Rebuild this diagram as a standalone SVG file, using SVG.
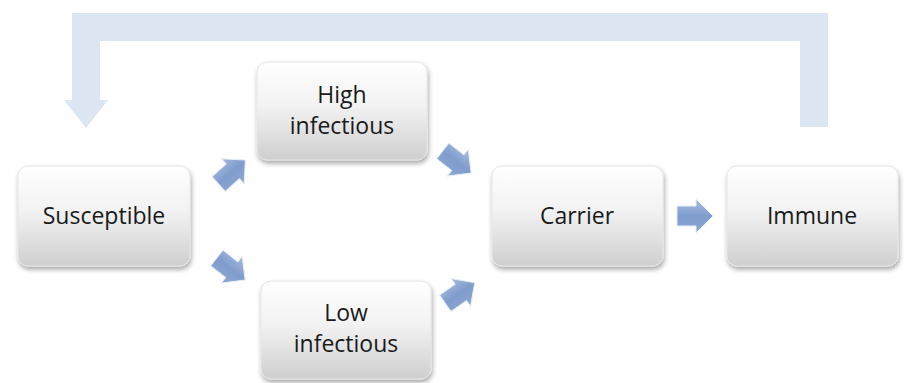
<svg xmlns="http://www.w3.org/2000/svg" width="907" height="383" viewBox="0 0 907 383">
<defs>
<linearGradient id="boxg" x1="0" y1="0" x2="0" y2="1">
<stop offset="0" stop-color="#ffffff"/>
<stop offset="0.45" stop-color="#f2f2f2"/>
<stop offset="1" stop-color="#cfcfcf"/>
</linearGradient>
<linearGradient id="arrg" x1="0" y1="0" x2="0" y2="1">
<stop offset="0" stop-color="#a9bde0"/>
<stop offset="0.5" stop-color="#7f9ccc"/>
<stop offset="1" stop-color="#8fa8d4"/>
</linearGradient>
<filter id="sh" x="-10%" y="-10%" width="125%" height="130%">
<feGaussianBlur in="SourceAlpha" stdDeviation="2.5"/>
<feOffset dx="1" dy="3" result="b"/>
<feComponentTransfer><feFuncA type="linear" slope="0.35"/></feComponentTransfer>
<feMerge><feMergeNode/><feMergeNode in="SourceGraphic"/></feMerge>
</filter>
<path id="arr" d="M-18,-10 L1,-10 L1,-17 L18,0 L1,17 L1,10 L-18,10 Z"/>
</defs>
<style>
.box{fill:url(#boxg);stroke:#e6e6e6;stroke-width:1;filter:url(#sh)}
.lbl{font-family:"Open Sans","Liberation Sans",sans-serif;font-size:23px;fill:#1a1a1a;text-anchor:middle}
.ar{fill:url(#arrg);stroke:#e8eef8;stroke-width:1}
</style>
<rect width="907" height="383" fill="#ffffff"/>
<g id="connectors">
<path d="M828,127 L828,13 L72,13 L72,100 L64,100 L86,128 L108,100 L100,100 L100,41 L800,41 L800,127 Z" fill="#dce6f2"/>
<use href="#arr" class="ar" transform="translate(232,172) rotate(-42)"/>
<use href="#arr" class="ar" transform="translate(231,269) rotate(38)"/>
<use href="#arr" class="ar" transform="translate(457,162) rotate(38)"/>
<use href="#arr" class="ar" transform="translate(460,293) rotate(-35)"/>
<use href="#arr" class="ar" transform="translate(695,216)"/>
</g>
<g id="susceptible">
<rect class="box" x="18" y="166" width="172" height="100" rx="10"/>
<text class="lbl" x="104" y="224">Susceptible</text>
</g>
<g id="high">
<rect class="box" x="257" y="62" width="170" height="98" rx="10"/>
<text class="lbl" x="342" y="103">High</text>
<text class="lbl" x="342" y="134">infectious</text>
</g>
<g id="low">
<rect class="box" x="261" y="281" width="170" height="98" rx="10"/>
<text class="lbl" x="346" y="321">Low</text>
<text class="lbl" x="346" y="352">infectious</text>
</g>
<g id="carrier">
<rect class="box" x="492" y="166" width="171" height="100" rx="10"/>
<text class="lbl" x="577" y="224">Carrier</text>
</g>
<g id="immune">
<rect class="box" x="727" y="166" width="171" height="100" rx="10"/>
<text class="lbl" x="812" y="224">Immune</text>
</g>
</svg>
